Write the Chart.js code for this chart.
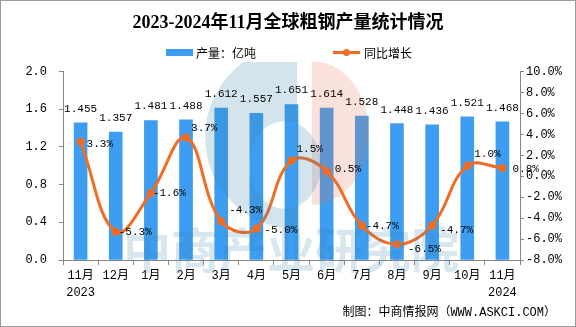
<!DOCTYPE html>
<html>
<head>
<meta charset="utf-8">
<script src="https://cdn.jsdelivr.net/npm/chart.js@4.4.1/dist/chart.umd.min.js"></script>
<style>
  body{margin:0;background:#fff;}
  canvas{display:block;}
</style>
</head>
<body>
<canvas id="steelChart" width="576" height="327"></canvas>
<script>
// data
const months = ['11月','12月','1月','2月','3月','4月','5月','6月','7月','8月','9月','10月','11月'];
const years = ['2023','','','','','','','','','','','','2024'];
const output = [1.455,1.357,1.481,1.488,1.612,1.557,1.651,1.614,1.528,1.448,1.436,1.521,1.468];
const growth = [3.3,-5.3,-1.6,3.7,-4.3,-5.0,1.5,0.5,-4.7,-6.5,-4.7,1.0,0.8];
const seriesNames = ['产量：亿吨','同比增长'];

const BLUE = '#3d9df0';
const ORANGE = '#f26c22';
const AXIS = '#868686';
const MONO = "'Liberation Mono','Noto Sans CJK SC',monospace";
const CJK = "'Noto Sans CJK SC','Liberation Mono',sans-serif";

// label nudges for the growth labels (dx, dy in px), like the hand placed excel labels
const growthLabelDx = [6,3,2,5,8,8,5,8,4,11,8,7,10];
const growthLabelDy = [2,0,0,-9,-11,1,-11,-2,1,5,5,-12,1];

const labels = months.map((m,i)=> years[i] ? [m,years[i]] : m);

const decorPlugin = {
  id:'decor',
  afterDatasetsDraw(chart){
    const ctx = chart.ctx;
    // watermark, drawn over the marks with low alpha
    ctx.save();
    ctx.beginPath();
    ctx.rect(0,62,576,265);
    ctx.clip();
    ctx.fillStyle = 'rgba(230,120,80,0.22)';
    ctx.beginPath();
    ctx.ellipse(312,133,57,72,0,-Math.PI/2,Math.PI/2);
    ctx.closePath();
    ctx.fill();
    ctx.fillStyle = 'rgba(60,130,175,0.22)';
    ctx.beginPath();
    ctx.arc(297,137,92,-Math.PI/2,Math.PI/2,true);
    ctx.closePath();
    ctx.moveTo(285+36,165);
    ctx.ellipse(285,165,36,44,0,0,Math.PI*2);
    ctx.fill('evenodd');
    ctx.font = "bold 48px 'Noto Sans CJK SC'";
    ctx.textAlign = 'center';
    ctx.textBaseline = 'middle';
    ctx.fillStyle = 'rgba(60,130,175,0.2)';
    ctx.fillText('中商产业研究院',291,250);
    ctx.restore();

    // value labels
    ctx.save();
    ctx.font = '11px ' + MONO;
    ctx.fillStyle = '#000';
    ctx.textBaseline = 'middle';
    const bars = chart.getDatasetMeta(0).data;
    ctx.textAlign = 'center';
    bars.forEach((b,i)=>{
      ctx.fillText(output[i].toFixed(3), b.x, b.y - 14);
    });
    const pts = chart.getDatasetMeta(1).data;
    ctx.textAlign = 'left';
    pts.forEach((p,i)=>{
      ctx.fillText(growth[i].toFixed(1) + '%', p.x + growthLabelDx[i], p.y + growthLabelDy[i]);
    });
    ctx.restore();
  },
  afterDraw(chart){
    const ctx = chart.ctx;
    ctx.save();
    // legend
    ctx.fillStyle = BLUE;
    ctx.fillRect(166,49,27,7);
    ctx.strokeStyle = ORANGE;
    ctx.lineWidth = 3;
    ctx.beginPath();
    ctx.moveTo(333,52.5);
    ctx.lineTo(360,52.5);
    ctx.stroke();
    ctx.fillStyle = ORANGE;
    ctx.beginPath();
    ctx.arc(346.5,52.5,3.5,0,Math.PI*2);
    ctx.fill();
    ctx.fillStyle = '#000';
    ctx.font = '12px ' + CJK;
    ctx.textBaseline = 'middle';
    ctx.textAlign = 'left';
    ctx.fillText(seriesNames[0],196,53);
    ctx.fillText(seriesNames[1],364,53);
    // source note
    ctx.textAlign = 'right';
    ctx.font = '12px ' + MONO;
    ctx.fillText('制图：中商情报网（WWW.ASKCI.COM）',556,313);
    // frame
    ctx.strokeStyle = '#9a9a9a';
    ctx.lineWidth = 1;
    ctx.strokeRect(0.5,0.5,575,326);
    ctx.restore();
  }
};

var ctx = document.getElementById('steelChart').getContext('2d');
var myChart = new Chart(ctx, {
  type:'bar',
  data:{
    labels: labels,
    datasets:[{
      type:'bar',
      label: seriesNames[0],
      data: output,
      backgroundColor: BLUE,
      barThickness: 13,
      yAxisID:'y',
      order:2
    },{
      type:'line',
      label: seriesNames[1],
      data: growth,
      borderColor: ORANGE,
      backgroundColor: ORANGE,
      borderWidth: 3,
      tension: 0.4,
      pointRadius: 4,
      pointBackgroundColor: ORANGE,
      pointBorderWidth: 0,
      yAxisID:'y1',
      order:1
    }]
  },
  plugins:[decorPlugin],
  options:{
    responsive:false,
    animation:false,
    layout:{padding:{left:0,right:0,top:0,bottom:0}},
    plugins:{
      legend:{display:false},
      tooltip:{enabled:false},
      title:{
        display:true,
        text:'2023-2024年11月全球粗钢产量统计情况',
        color:'#000',
        font:{family:"'Liberation Serif','Noto Sans CJK SC',serif",size:18,weight:'bold'},
        padding:{top:13,bottom:37}
      }
    },
    scales:{
      x:{
        offset:true,
        grid:{drawOnChartArea:false,offset:true,tickLength:5,color:AXIS},
        border:{color:AXIS},
        ticks:{color:'#000',font:{family:MONO,size:12,lineHeight:1.45},padding:2,maxRotation:0,autoSkip:false},
        afterFit(scale){ scale.height = 67; }
      },
      y:{
        position:'left',
        min:0,max:2,
        grid:{drawOnChartArea:false,tickLength:4,color:AXIS},
        border:{color:AXIS},
        ticks:{stepSize:0.4,color:'#000',font:{family:MONO,size:12},padding:12,
          callback:(v)=>v.toFixed(1)},
        afterFit(scale){ scale.width = 63; }
      },
      y1:{
        position:'right',
        min:-8,max:10,
        grid:{drawOnChartArea:false,tickLength:4,color:AXIS},
        border:{color:AXIS},
        ticks:{stepSize:2,color:'#000',font:{family:MONO,size:12},padding:2,
          callback:(v)=>v.toFixed(1)+'%'},
        afterFit(scale){ scale.width = 56; }
      }
    }
  }
});
</script>
</body>
</html>
